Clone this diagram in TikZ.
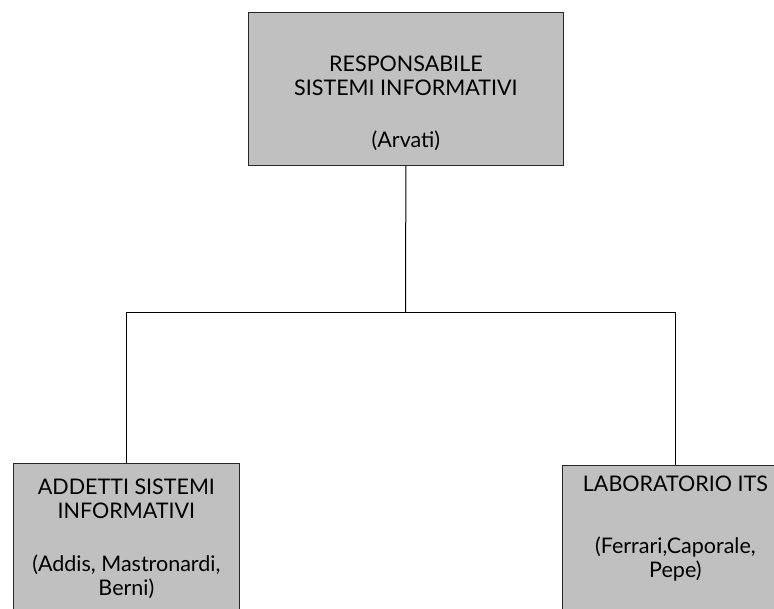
\documentclass[tikz,border=0pt]{standalone}
\usepackage{fontspec}
\setmainfont{Lato}
\usepackage{tikz}
\definecolor{boxgray}{HTML}{C0C0C0}
\tikzset{
    orgbox/.style={draw=black!85, fill=boxgray, line width=0.8pt, inner sep=0pt,
        align=center, anchor=north west, font=\fontsize{21.5}{24}\selectfont},
    link/.style={line width=1pt}
}

\begin{document}
\begin{tikzpicture}[x=1pt, y=-1pt]
    \useasboundingbox (0,0) rectangle (774,609);
    \clip (0,0) rectangle (774,609);
    \node[orgbox, minimum width=315pt, text height=135pt, text depth=18pt] (resp) at (248,12)
        {RESPONSABILE\\SISTEMI INFORMATIVI\\[28pt](Arvati)};
    \node[orgbox, minimum width=226pt, text height=132pt, text depth=60pt] (addetti) at (13,463)
        {ADDETTI SISTEMI\\INFORMATIVI\\[29pt](Addis, Mastronardi,\\Berni)};
    \node[orgbox, minimum width=226pt, text height=112pt, text depth=80pt] (lab) at (562,465)
        {LABORATORIO ITS\\[38pt](Ferrari,Caporale,\\Pepe)};
    \coordinate (split) at (405.5,313);
    \draw [link] (resp.south) -- (split);
    \draw [link] (split) -| (addetti.north);
    \draw [link] (split) -| (lab.north);
\end{tikzpicture}
\end{document}
